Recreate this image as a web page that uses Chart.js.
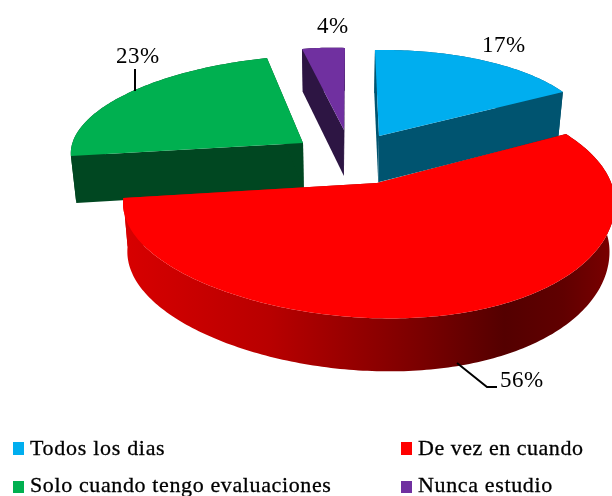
<!DOCTYPE html>
<html>
<head>
<meta charset="utf-8">
<script src="https://cdn.jsdelivr.net/npm/chart.js@4/dist/chart.umd.js"></script>
<style>
  html, body { margin: 0; padding: 0; background: #fff; }
  #wrap { width: 612px; height: 496px; overflow: hidden; }
</style>
</head>
<body>
<div id="wrap"><canvas id="pie" width="612" height="496"></canvas></div>
<script>
const categories = ['Todos los dias', 'De vez en cuando', 'Solo cuando tengo evaluaciones', 'Nunca estudio'];
const percents = [17, 56, 23, 4];

const topColors = ['#00AEEF', '#FF0000', '#00B050', '#7030A0'];
const wallColors = ['#005470', null, '#004721', '#2D1543'];

const deg = Math.PI / 180;

// How each slice sits on the tilted plate. The small ones are a plain matrix
// around their apex, the big one is an ellipse whose centre is not its apex.
const plates = [
    { x: 379, y: 136, a: 211.8, b: -11.5, c: 3.4, d: 86.0 },
    { x: 377, y: 183, cx: 369, cy: 203, rx: 246, ry: 115, turn: 1.0878, shift: -0.9 * deg, skew: 10 },
    { x: 303, y: 143, a: 228.9, b: -39.0, c: 4.54, d: 88.1 },
    { x: 344, y: 130, a: 172, b: -13.6, c: 12.1, d: 81.4 },
];

const labelSpots = [
    { x: 482, y: 52 }, { x: 500, y: 387 }, { x: 116, y: 63 }, { x: 317, y: 33 },
];
const legendSpots = [
    { x: 13, y: 442, h: 13, base: 455, gap: 0.7 }, { x: 401, y: 442, h: 13, base: 455, gap: 0.53 },
    { x: 13, y: 481, h: 12, base: 492, gap: 0.62 }, { x: 401, y: 481, h: 12, base: 492, gap: 0.65 },
];

function project(plate, angle) {
    if (plate.rx) {
        const phi = angle * plate.turn + plate.shift;
        const sin = Math.sin(phi);
        const cos = Math.cos(phi);
        return {
            x: plate.cx + plate.rx * cos,
            y: plate.cy + plate.ry * sin + plate.skew * cos * Math.max(sin, 0),
        };
    }
    const X = Math.cos(angle);
    const Y = Math.sin(angle);
    return { x: plate.x + plate.a * X + plate.b * Y, y: plate.y + plate.c * X + plate.d * Y };
}

// Where a point on the top face ends up on the underside
function lower(pt) {
    return { x: pt.x + (340 - pt.x) * 0.02, y: pt.y + 43 + (pt.y - 50) * 0.037 };
}

function rim(plate, start, end) {
    const pts = [];
    const steps = Math.ceil((end - start) / deg);
    for (let i = 0; i <= steps; i++) {
        pts.push(project(plate, start + (end - start) * i / steps));
    }
    return pts;
}

function trace(ctx, pts) {
    ctx.beginPath();
    pts.forEach((p, k) => k ? ctx.lineTo(p.x, p.y) : ctx.moveTo(p.x, p.y));
    ctx.closePath();
}

function redWall(ctx) {
    const grad = ctx.createLinearGradient(123, 0, 612, 0);
    grad.addColorStop(0, '#D80000');
    grad.addColorStop(0.3, '#B80000');
    grad.addColorStop(0.6, '#7C0000');
    grad.addColorStop(0.78, '#540000');
    grad.addColorStop(0.9, '#600000');
    grad.addColorStop(1, '#7A0000');
    return grad;
}

class Pie3D extends Chart.PieController {
    draw() {
        const ctx = this.chart.ctx;
        const arcs = this.getMeta().data;
        // back slices first, the big front one last
        [3, 0, 2, 1].forEach(i => {
            const plate = plates[i];
            const edge = rim(plate, arcs[i].startAngle, arcs[i].endAngle);
            const apex = { x: plate.x, y: plate.y };
            const first = edge[0];
            const last = edge[edge.length - 1];
            ctx.save();
            ctx.fillStyle = wallColors[i] || redWall(ctx);
            // outer band, then the two cut sides
            trace(ctx, edge.concat(edge.map(lower).reverse()));
            ctx.fill();
            trace(ctx, [apex, first, lower(first), lower(apex)]);
            ctx.fill();
            trace(ctx, [apex, last, lower(last), lower(apex)]);
            ctx.fill();
            ctx.fillStyle = arcs[i].options.backgroundColor;
            trace(ctx, [apex].concat(edge));
            ctx.fill();
            ctx.restore();
        });
    }
}
Pie3D.id = 'pie3d';
Pie3D.defaults = Chart.PieController.defaults;
Pie3D.overrides = Chart.PieController.overrides;
Chart.register(Pie3D);

const textPlugin = {
    id: 'pieText',
    afterDraw(chart) {
        const ctx = chart.ctx;
        ctx.save();
        ctx.strokeStyle = '#000';
        ctx.lineWidth = 2;
        ctx.beginPath();
        ctx.moveTo(135, 69); ctx.lineTo(135, 91);
        ctx.moveTo(457, 363); ctx.lineTo(487, 387); ctx.lineTo(497, 387);
        ctx.stroke();

        ctx.fillStyle = '#000';
        ctx.textBaseline = 'alphabetic';
        ctx.font = '23px "Liberation Serif"';
        ctx.letterSpacing = '0.5px';
        percents.forEach((v, i) => ctx.fillText(v + '%', labelSpots[i].x, labelSpots[i].y));

        ctx.font = '22px "Liberation Serif"';
        ctx.lineWidth = 0.3;
        categories.forEach((name, i) => {
            const s = legendSpots[i];
            ctx.fillStyle = topColors[i];
            ctx.fillRect(s.x, s.y, 11, s.h);
            ctx.fillStyle = '#000';
            ctx.letterSpacing = s.gap + 'px';
            ctx.fillText(name, s.x + 17, s.base);
            ctx.strokeText(name, s.x + 17, s.base);
        });
        ctx.restore();
    }
};

new Chart(document.getElementById('pie'), {
    type: 'pie3d',
    data: {
        labels: categories,
        datasets: [{ data: percents, backgroundColor: topColors, borderWidth: 0 }]
    },
    options: {
        responsive: false,
        animation: false,
        rotation: -4.2,
        plugins: { legend: { display: false }, tooltip: { enabled: false } }
    },
    plugins: [textPlugin]
});
</script>
</body>
</html>
